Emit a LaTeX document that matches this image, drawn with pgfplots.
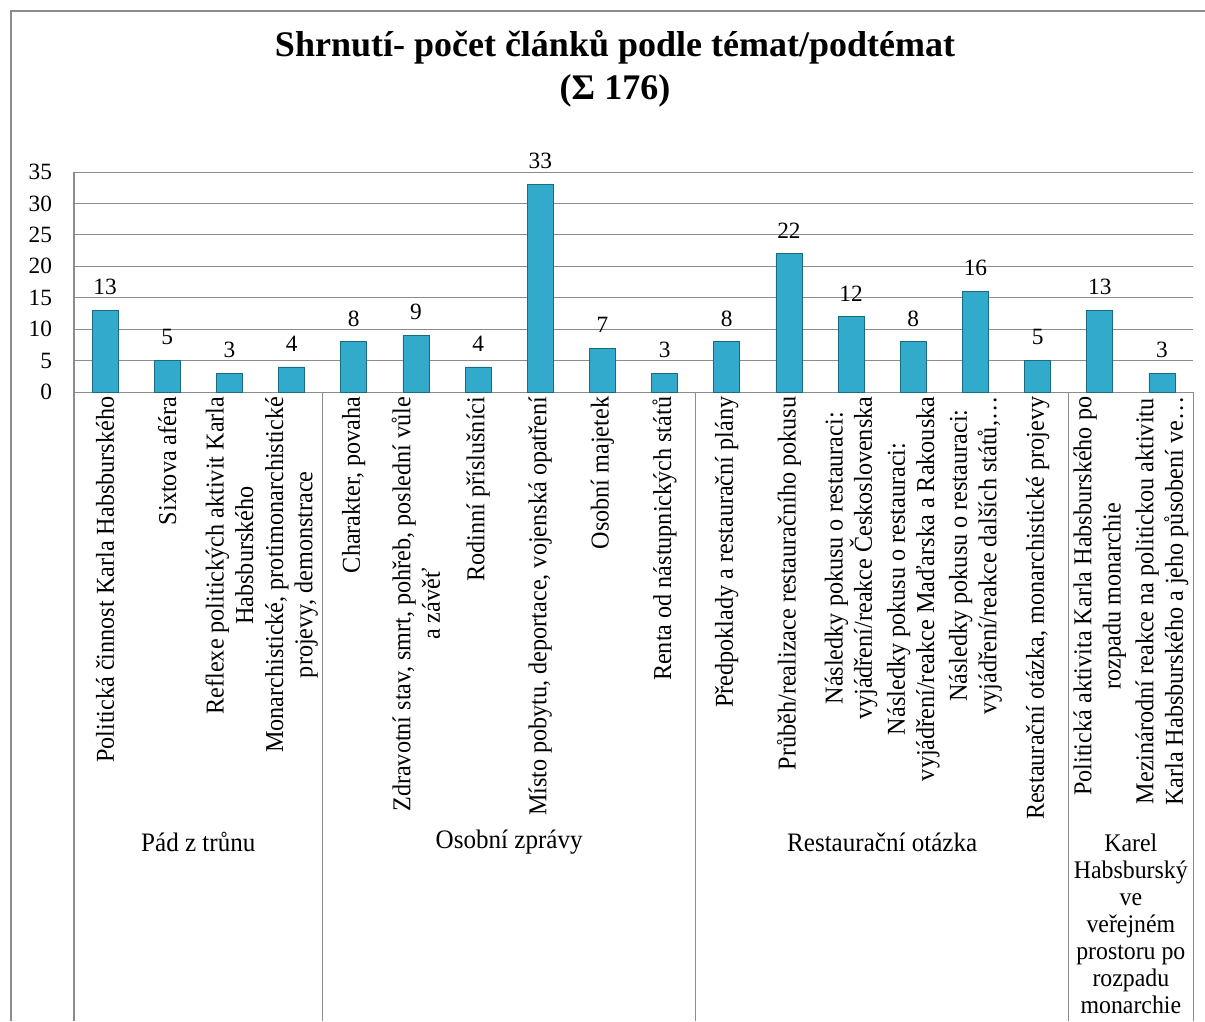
\documentclass[border=0pt]{standalone}
\usepackage{fontspec}
\setmainfont{Liberation Serif}
\newfontfamily\narrowfont[FakeStretch=0.94]{Liberation Serif}
\usepackage{pgfplots}
\pgfplotsset{compat=1.18}
\definecolor{gridgray}{HTML}{8C8C8C}
\definecolor{barfill}{HTML}{31AACB}
\definecolor{barline}{HTML}{1A6A80}
\begin{document}
\begin{tikzpicture}
\useasboundingbox (0,0) rectangle (903.75pt,-765.75pt);
\fill[white] (0,0) rectangle (903.75pt,-765.75pt);
\draw[gridgray, line width=1.5pt] (8.25pt,-765.75pt) -- (8.25pt,-8.25pt) -- (903.75pt,-8.25pt);
\node[align=center, font=\bfseries\fontsize{27}{32}\selectfont] at (461.25pt,-51.75pt) {Shrnutí- počet článků podle témat/podtémat\\(Σ 176)};
\begin{axis}[
  at={(55.5pt,-294pt)}, anchor=south west,
  scale only axis, width=839.25pt, height=165pt,
  xmin=-0.5, xmax=17.5, ymin=0, ymax=35,
  ytick={0,5,...,35},
  ymajorgrids, grid style={gridgray, line width=0.75pt},
  axis line style={draw=none},
  tick style={draw=none},
  major tick length=0pt,
  xtick={0,...,17},
  xticklabels={
    {Politická činnost Karla Habsburského},
    {Sixtova aféra},
    {Reflexe politických aktivit Karla\\Habsburského},
    {Monarchistické, protimonarchistické\\projevy, demonstrace},
    {Charakter, povaha},
    {Zdravotní stav, smrt, pohřeb, poslední vůle\\a závěť},
    {Rodinní příslušníci},
    {Místo pobytu, deportace, vojenská opatření},
    {Osobní majetek},
    {Renta od nástupnických států},
    {Předpoklady a restaurační plány},
    {Průběh/realizace restauračního pokusu},
    {Následky pokusu o restauraci:\\vyjádření/reakce Československa},
    {Následky pokusu o restauraci:\\vyjádření/reakce Maďarska a Rakouska},
    {Následky pokusu o restauraci:\\vyjádření/reakce dalších států,…},
    {Restaurační otázka, monarchistické projevy},
    {Politická aktivita Karla Habsburského po\\rozpadu monarchie},
    {Mezinárodní reakce na politickou aktivitu\\Karla Habsburského a jeho působení ve…}
  },
  xticklabel style={rotate=90, anchor=east, align=center, font=\narrowfont\fontsize{19.3}{22}\selectfont},
  yticklabel style={font=\fontsize{17.5}{17.5}\selectfont, xshift=-13pt},
  /pgf/number format/assume math mode=true,
  clip=false,
  nodes near coords,
  nodes near coords style={font=\fontsize{17.5}{17.5}\selectfont, text=black, yshift=8pt},
]
\addplot[ybar, bar width=19.5pt, draw=barline, fill=barfill]
  coordinates {(0,13) (1,5) (2,3) (3,4) (4,8) (5,9) (6,4) (7,33) (8,7) (9,3)
               (10,8) (11,22) (12,12) (13,8) (14,16) (15,5) (16,13) (17,3)};
\draw[gridgray, line width=1.2pt] (axis cs:-0.5,35) -- (axis cs:-0.5,0) -- ++(0pt,-471.75pt);
\draw[gridgray, line width=0.75pt] (axis cs:3.5,0) -- ++(0pt,-471.75pt);
\draw[gridgray, line width=0.75pt] (axis cs:9.5,0) -- ++(0pt,-471.75pt);
\draw[gridgray, line width=0.75pt] (axis cs:15.5,0) -- ++(0pt,-471.75pt);
\draw[gridgray, line width=0.75pt] (axis cs:17.5,0) -- ++(0pt,-471.75pt);
\node[yshift=-337.5pt, font=\narrowfont\fontsize{20}{20}\selectfont] at (axis cs:1.5,0) {Pád z trůnu};
\node[yshift=-337.5pt, font=\narrowfont\fontsize{20}{20}\selectfont] at (axis cs:6.5,0) {Osobní zprávy};
\node[yshift=-337.5pt, font=\narrowfont\fontsize{20}{20}\selectfont] at (axis cs:12.5,0) {Restaurační otázka};
\node[anchor=north, yshift=-331pt, align=center, inner sep=0pt, font=\narrowfont\fontsize{19}{20.25}\selectfont] at (axis cs:16.5,0) {Karel\\Habsburský\\ve\\veřejném\\prostoru po\\rozpadu\\monarchie};
\end{axis}
\end{tikzpicture}
\end{document}
